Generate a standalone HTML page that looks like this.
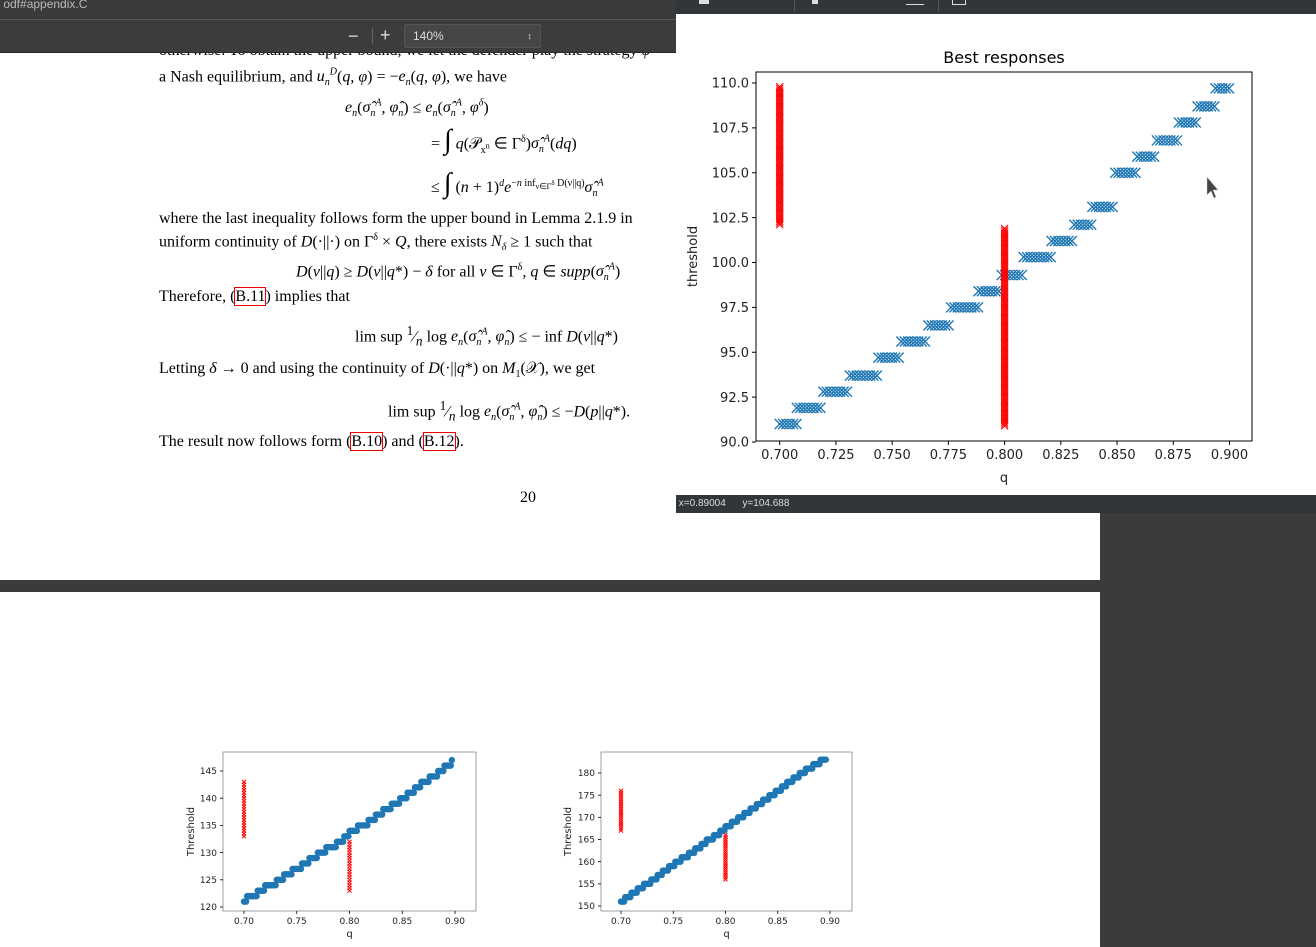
<!DOCTYPE html>
<html><head><meta charset="utf-8">
<style>
body{margin:0;width:1316px;height:947px;position:relative;overflow:hidden;background:#3b3b3b;font-family:"Liberation Sans",sans-serif;}
.abs{position:absolute;}
.t{position:absolute;white-space:nowrap;font-family:"Liberation Serif",serif;font-size:16px;line-height:16px;color:#000;}
i{font-style:italic;}
.ref{outline:1.5px solid #e00;outline-offset:0;}
</style></head><body>
<div class="abs" style="left:0;top:0;width:676px;height:19px;background:#3a3a3a;border-bottom:1px solid #555;color:#bbb;font-size:12px;line-height:9px;overflow:hidden;">&nbsp;odf#appendix.C</div>
<div class="abs" style="left:0;top:20px;width:676px;height:32px;background:#3c3c3c;border-bottom:1px solid #2a2a2a;">
 <div class="abs" style="left:348px;top:6px;color:#ddd;font-size:18px;">−</div>
 <div class="abs" style="left:372px;top:8px;width:1px;height:16px;background:#666;"></div>
 <div class="abs" style="left:380px;top:5px;color:#ddd;font-size:18px;">+</div>
 <div class="abs" style="left:404px;top:4px;width:135px;height:22px;background:#464646;border:1px solid #555;border-radius:2px;color:#ddd;font-size:12px;line-height:22px;text-indent:8px;">140%<span style="position:absolute;right:8px;font-size:9px;">↕</span></div>
</div>
<div class="abs" style="left:0;top:53px;width:1100px;height:527px;background:#fff;overflow:hidden;">
 <div class="t" style="left:159px;top:-10px;">otherwise. To obtain the upper bound, we let the defender play the strategy <i>φ</i></div>
 <div class="t" style="left:159px;top:12px;">a Nash equilibrium, and <i>u<sub style="font-size:10px">n</sub><sup style="font-size:10px">D</sup></i>(<i>q</i>, <i>φ</i>) = −<i>e<sub style="font-size:10px">n</sub></i>(<i>q</i>, <i>φ</i>), we have</div>
 <div class="t" style="left:345px;top:43px;"><i>e<sub style="font-size:10px">n</sub></i>(<i>σ̂<sub style="font-size:10px">n</sub><sup style="font-size:10px">A</sup></i>, <i>φ̂<sub style="font-size:10px">n</sub></i>) ≤ <i>e<sub style="font-size:10px">n</sub></i>(<i>σ̂<sub style="font-size:10px">n</sub><sup style="font-size:10px">A</sup></i>, <i>φ<sup style="font-size:10px">δ</sup></i>)</div>
 <div class="t" style="left:431px;top:79px;">= <span style="font-size:28px">∫</span> <i>q</i>(𝒫<sub style="font-size:10px">x<sup>n</sup></sub> ∈ Γ<sup style="font-size:10px">δ</sup>)<i>σ̂<sub style="font-size:10px">n</sub><sup style="font-size:10px">A</sup></i>(<i>dq</i>)</div>
 <div class="t" style="left:431px;top:122px;">≤ <span style="font-size:28px">∫</span> (<i>n</i> + 1)<sup style="font-size:10px"><i>d</i></sup><i>e</i><sup style="font-size:10px">−<i>n</i> inf<sub>ν∈Γ<sup>δ</sup></sub> D(ν||q)</sup><i>σ̂<sub style="font-size:10px">n</sub><sup style="font-size:10px">A</sup></i></div>
 <div class="t" style="left:159px;top:158px;">where the last inequality follows form the upper bound in Lemma 2.1.9 in</div>
 <div class="t" style="left:159px;top:177px;">uniform continuity of <i>D</i>(·||·) on Γ<sup style="font-size:10px">δ</sup> × <i>Q</i>, there exists <i>N<sub style="font-size:10px">δ</sub></i> ≥ 1 such that</div>
 <div class="t" style="left:296px;top:207px;"><i>D</i>(<i>ν</i>||<i>q</i>) ≥ <i>D</i>(<i>ν</i>||<i>q</i>*) − <i>δ</i> for all <i>ν</i> ∈ Γ<sup style="font-size:10px">δ</sup>, <i>q</i> ∈ <i>supp</i>(<i>σ̂<sub style="font-size:10px">n</sub><sup style="font-size:10px">A</sup></i>)</div>
 <div class="t" style="left:159px;top:236px;">Therefore, (<span class="ref">B.11</span>) implies that</div>
 <div class="t" style="left:355px;top:270px;">lim sup <sup>1</sup>&frasl;<sub><i>n</i></sub> log <i>e<sub style="font-size:10px">n</sub></i>(<i>σ̂<sub style="font-size:10px">n</sub><sup style="font-size:10px">A</sup></i>, <i>φ̂<sub style="font-size:10px">n</sub></i>) ≤ − inf <i>D</i>(<i>ν</i>||<i>q</i>*)</div>
 <div class="t" style="left:159px;top:308px;">Letting <i>δ</i> → 0 and using the continuity of <i>D</i>(·||<i>q</i>*) on <i>M</i><sub style="font-size:10px">1</sub>(𝒳), we get</div>
 <div class="t" style="left:388px;top:345px;">lim sup <sup>1</sup>&frasl;<sub><i>n</i></sub> log <i>e<sub style="font-size:10px">n</sub></i>(<i>σ̂<sub style="font-size:10px">n</sub><sup style="font-size:10px">A</sup></i>, <i>φ̂<sub style="font-size:10px">n</sub></i>) ≤ −<i>D</i>(<i>p</i>||<i>q</i>*).</div>
 <div class="t" style="left:159px;top:381px;">The result now follows form (<span class="ref">B.10</span>) and (<span class="ref">B.12</span>).</div>
 <div class="t" style="left:520px;top:437px;">20</div>
</div>
<div class="abs" style="left:0;top:592px;width:1100px;height:355px;background:#fff;"></div>

<div class="abs" style="left:676px;top:0;width:640px;height:513px;background:#fff;">
 <div class="abs" style="left:0;top:0;width:640px;height:14px;background:#31363b;">
  <div class="abs" style="left:23px;top:0;width:10px;height:4px;background:#ddd;"></div>
  <div class="abs" style="left:118px;top:0;width:1px;height:12px;background:#555;"></div>
  <div class="abs" style="left:136px;top:0;width:6px;height:4px;background:#ddd;"></div>
  <div class="abs" style="left:230px;top:0;width:18px;height:4px;border-bottom:1px solid #ddd;"></div>
  <div class="abs" style="left:262px;top:0;width:1px;height:12px;background:#555;"></div>
  <div class="abs" style="left:276px;top:0;width:12px;height:4px;border:1px solid #ddd;border-top:none;"></div>
 </div>
 <div class="abs" style="left:0;top:495px;width:640px;height:18px;background:#31363b;color:#ddd;font-size:10px;line-height:18px;">&nbsp;x=0.89004&nbsp;&nbsp;&nbsp;&nbsp;&nbsp;&nbsp;y=104.688</div>
</div>
<svg class="abs" style="left:0;top:0" width="1316" height="947" id="svg" font-family="DejaVu Sans, sans-serif"></svg>
<script>
// main chart data
const stepQ=[0.700,0.7076,0.7194,0.7312,0.7439,0.7541,0.7661,0.7762,0.7884,0.7987,0.8085,0.8209,0.8310,0.8390,0.8492,0.8590,0.8677,0.8775,0.8858,0.8938];
const stepY=[91.0,91.9,92.8,93.7,94.7,95.6,96.5,97.5,98.4,99.3,100.3,101.2,102.1,103.1,105.0,105.9,106.8,107.8,108.7,109.7];
const qEnd=0.900;
const redQ=[0.700,0.800];
const redLow=[102.1,90.9];
const redHigh=[109.8,101.9];
const xTicks=[0.700,0.725,0.750,0.775,0.800,0.825,0.850,0.875,0.900];
const yTicks=[90.0,92.5,95.0,97.5,100.0,102.5,105.0,107.5,110.0];
// bottom-left chart data
const lStepQ=[0.700,0.703,0.713,0.720,0.731,0.738,0.746,0.755,0.762,0.770,0.778,0.788,0.795,0.800,0.808,0.818,0.825,0.832,0.840,0.848,0.855,0.862,0.868,0.876,0.884,0.890,0.897];
const lStepY=[121,122,123,124,125,126,127,128,129,130,131,132,133,134,135,136,137,138,139,140,141,142,143,144,145,146,147];
const lRedLow=[133,123];
const lRedHigh=[143,132];
const lYTicks=[120,125,130,135,140,145];
// bottom-right chart data
const rStepQ=[0.700,0.704,0.710,0.716,0.722,0.729,0.735,0.740,0.746,0.752,0.758,0.765,0.771,0.777,0.782,0.789,0.795,0.800,0.806,0.812,0.818,0.824,0.830,0.836,0.842,0.848,0.854,0.859,0.865,0.871,0.877,0.884,0.891];
const rStepY=[151,152,153,154,155,156,157,158,159,160,161,162,163,164,165,166,167,168,169,170,171,172,173,174,175,176,177,178,179,180,181,182,183];
const rRedLow=[167,156];
const rRedHigh=[176,166];
const rYTicks=[150,155,160,165,170,175,180];
const smallXTicks=[0.70,0.75,0.80,0.85,0.90];

const svg=document.getElementById('svg');
const NS='http://www.w3.org/2000/svg';
function mk(tag,attrs,parent){const e=document.createElementNS(NS,tag);for(const k in attrs)e.setAttribute(k,attrs[k]);(parent||svg).appendChild(e);return e;}
function lin(d0,d1,r0,r1){return v=>r0+(v-d0)/(d1-d0)*(r1-r0);}
function xMark(g,cx,cy,s,color,w){
  return mk('path',{d:`M${cx-s},${cy-s}L${cx+s},${cy+s}M${cx-s},${cy+s}L${cx+s},${cy-s}`,stroke:color,'stroke-width':w,fill:'none'},g);
}
function chart(o){
  const g=mk('g',{});
  
  
  const X=lin(o.xd[0],o.xd[1],o.xr[0],o.xr[1]),Y=lin(o.yd[0],o.yd[1],o.yr[0],o.yr[1]);
  const sg=mk('g',{},g);
  
  
  for(let i=0;i<o.sq.length;i++){
    const q1=i+1<o.sq.length?o.sq[i+1]:o.qEnd;
    for(let q=o.sq[i];q<q1-1e-9;q+=o.qStep){
      if(o.dot){const c=mk('circle',{cx:X(q),cy:Y(o.sy[i]),r:o.ms,fill:'#1f77b4'},sg);}
      else{const m=xMark(sg,X(q),Y(o.sy[i]),o.ms,'#1f77b4',1.4);}
    }
  }
  const rg=mk('g',{},g);
  
  
  for(let i=0;i<redQ.length;i++){
    for(let v=o.rl[i];v<=o.rh[i]+1e-9;v+=o.rStep){
      const m=xMark(rg,X(redQ[i]),Y(v),o.rms,'#ff0000',1);
      
      
    }
  }
  const fr=mk('rect',{x:o.box[0],y:o.box[1],width:o.box[2]-o.box[0],height:o.box[3]-o.box[1],fill:'none',stroke:o.frame,'stroke-width':o.fw},g);
  
  
  for(const t of o.xt){
    mk('line',{x1:X(t),x2:X(t),y1:o.box[3],y2:o.box[3]+o.tl,stroke:'#000','stroke-width':o.fw},g);
    const tx=mk('text',{x:X(t),y:o.box[3]+o.tl+o.fs+1,'text-anchor':'middle','font-size':o.fs,fill:'#222'},g);
    tx.textContent=t.toFixed(o.xdp);
    
    
  }
  for(const t of o.yt){
    mk('line',{x1:o.box[0]-o.tl,x2:o.box[0],y1:Y(t),y2:Y(t),stroke:'#000','stroke-width':o.fw},g);
    const ty=mk('text',{x:o.box[0]-o.tl-3,y:Y(t)+o.fs*0.36,'text-anchor':'end','font-size':o.fs,fill:'#222'},g);
    ty.textContent=t.toFixed(o.ydp);
    
    
  }
  const xl=mk('text',{x:(o.box[0]+o.box[2])/2,y:o.xly,'text-anchor':'middle','font-size':o.lfs,fill:'#222'},g);
  xl.textContent='q';
  
  
  const yl=mk('text',{x:0,y:0,'text-anchor':'middle','font-size':o.lfs,fill:'#222',transform:`translate(${o.ylx},${(o.box[1]+o.box[3])/2}) rotate(-90)`},g);
  yl.textContent=o.ylab;
  
  
  if(o.title){const tt=mk('text',{x:(o.box[0]+o.box[2])/2,y:o.box[1]-9,'text-anchor':'middle','font-size':16,fill:'#000'},g);tt.textContent=o.title;}
}
chart({name:'main-chart',xd:[0.7,0.9],xr:[779.7,1229.5],yd:[90,110],yr:[442,83],box:[756,72,1252,441],
  sq:stepQ,sy:stepY,qEnd:qEnd,qStep:0.0015,ms:5,dot:false,rl:redLow,rh:redHigh,rStep:0.1,rms:3.5,
  xt:xTicks,yt:yTicks,xdp:3,ydp:1,fs:13,lfs:13,tl:4,fw:1,frame:'#000',xly:482,ylx:697,ylab:'threshold',title:'Best responses'});
chart({name:'left-chart',xd:[0.7,0.9],xr:[244,455],yd:[120,145],yr:[907,771],box:[223,752,476,911],
  sq:lStepQ,sy:lStepY,qEnd:0.898,qStep:0.001,ms:3.2,dot:true,rl:lRedLow,rh:lRedHigh,rStep:0.5,rms:2,
  xt:smallXTicks,yt:lYTicks,xdp:2,ydp:0,fs:9,lfs:10,tl:3,fw:0.8,frame:'#888',xly:937,ylx:194,ylab:'Threshold'});
chart({name:'right-chart',xd:[0.7,0.9],xr:[621,830],yd:[150,180],yr:[906,773],box:[601,752,852,911],
  sq:rStepQ,sy:rStepY,qEnd:0.897,qStep:0.001,ms:3.2,dot:true,rl:rRedLow,rh:rRedHigh,rStep:0.5,rms:2,
  xt:smallXTicks,yt:rYTicks,xdp:2,ydp:0,fs:9,lfs:10,tl:3,fw:0.8,frame:'#888',xly:937,ylx:571,ylab:'Threshold'});
const cur=mk('path',{d:'M1207,177 L1207,195 L1211,191 L1214,198 L1216,197 L1213,190 L1218,190 Z',fill:'#444',stroke:'#ccc','stroke-width':0.5});


</script>
</body></html>
